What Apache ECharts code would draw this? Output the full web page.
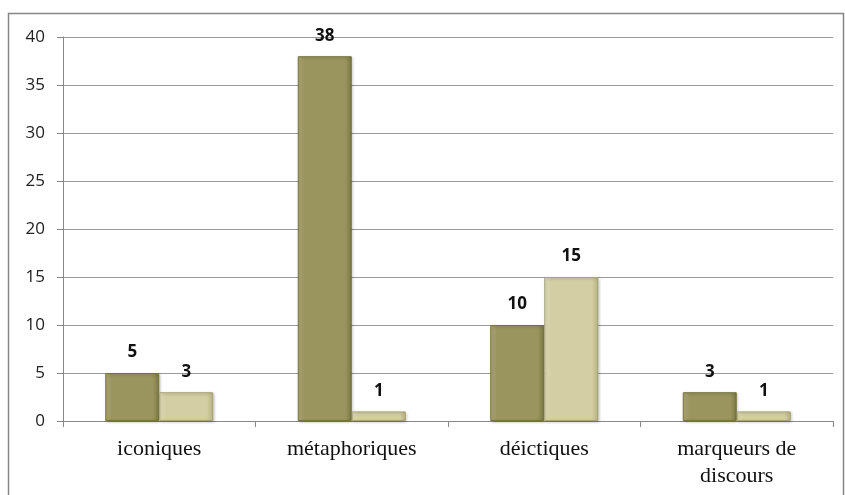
<!DOCTYPE html>
<html>
<head>
<meta charset="utf-8">
<script src="https://cdn.jsdelivr.net/npm/echarts@6/dist/echarts.min.js"></script>
<style>
  html, body { margin: 0; padding: 0; background: #fff; }
  #chart { width: 845px; height: 495px; }
</style>
</head>
<body>
<div id="chart"></div>
<script>
var categories = ['iconiques', 'métaphoriques', 'déictiques', 'marqueurs de\ndiscours'];
var seriesA = [5, 38, 10, 3];
var seriesB = [3, 1, 15, 1];

// left-to-right shading so the bevel looks the same on every bar height
function bevel(edgeL, mid, edgeR) {
    return new echarts.graphic.LinearGradient(0, 0, 1, 0, [
        { offset: 0, color: edgeL },
        { offset: 0.12, color: mid },
        { offset: 0.88, color: mid },
        { offset: 1, color: edgeR }
    ]);
}

var labelStyle = {
    show: true,
    position: 'top',
    distance: 12,
    fontFamily: 'Open Sans',
    fontWeight: 'bold',
    fontSize: 17,
    color: '#111'
};

var chart = echarts.init(document.getElementById('chart'));
chart.setOption({
    animation: false,
    grid: { left: 63, right: 12, top: 37, bottom: 74 },
    graphic: [{
        type: 'rect',
        shape: { x: 8.5, y: 13.5, width: 835, height: 490 },
        style: { fill: 'none', stroke: '#868686', lineWidth: 1.5 },
        silent: true
    }],
    xAxis: {
        type: 'category',
        data: categories,
        axisLine: { lineStyle: { color: '#888' } },
        axisTick: { show: true, length: 6, lineStyle: { color: '#888' } },
        axisLabel: {
            fontFamily: 'Liberation Serif',
            fontSize: 22,
            color: '#111',
            margin: 15,
            lineHeight: 27
        }
    },
    yAxis: {
        type: 'value',
        min: 0,
        max: 40,
        interval: 5,
        axisLine: { show: true, lineStyle: { color: '#888' } },
        axisTick: { show: true, length: 6, lineStyle: { color: '#888' } },
        splitLine: { lineStyle: { color: '#999' } },
        axisLabel: {
            fontFamily: 'Open Sans',
            fontSize: 17,
            color: '#222',
            margin: 18
        }
    },
    series: [
        {
            type: 'bar',
            data: seriesA,
            barWidth: 54,
            barGap: '0%',
            itemStyle: {
                color: bevel('#b3ae78', '#9a955e', '#7c7846'),
                borderColor: '#77733f',
                borderWidth: 1,
                shadowColor: 'rgba(0,0,0,0.25)',
                shadowBlur: 3,
                shadowOffsetX: 1,
                shadowOffsetY: 1
            },
            label: labelStyle
        },
        {
            type: 'bar',
            data: seriesB,
            barWidth: 54,
            barGap: '0%',
            itemStyle: {
                color: bevel('#e6e2c0', '#d3cea3', '#b9b486'),
                borderColor: '#a9a477',
                borderWidth: 1,
                shadowColor: 'rgba(0,0,0,0.25)',
                shadowBlur: 3,
                shadowOffsetX: 1,
                shadowOffsetY: 1
            },
            label: labelStyle
        }
    ]
});
</script>
</body>
</html>
